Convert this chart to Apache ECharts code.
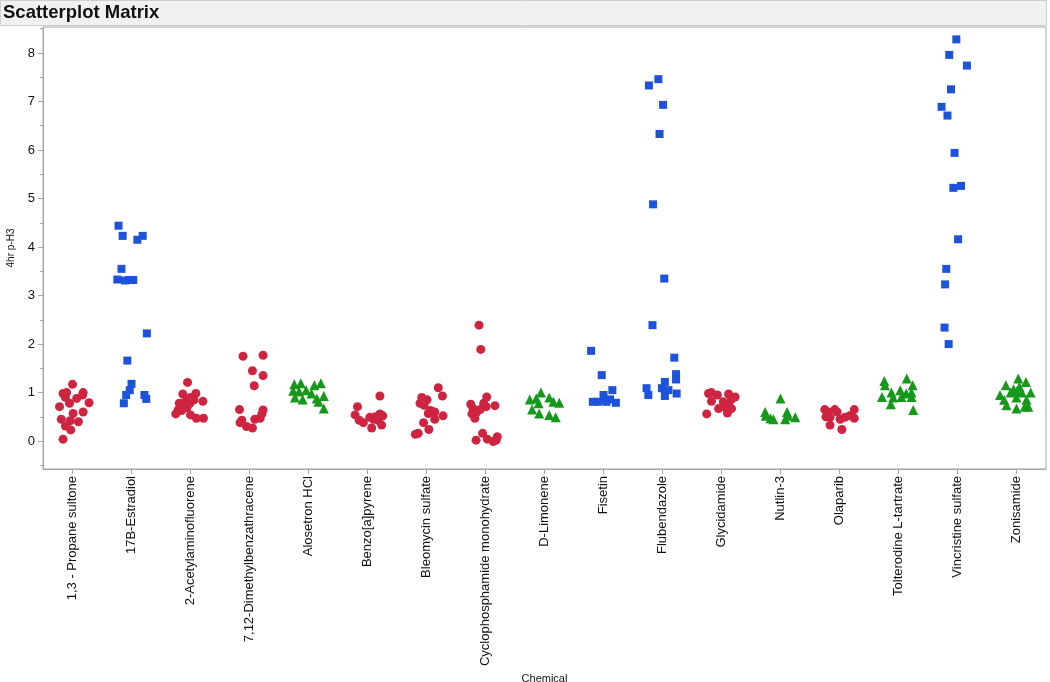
<!DOCTYPE html>
<html>
<head>
<meta charset="utf-8">
<style>
  html, body { margin: 0; padding: 0; background: #ffffff; }
  #chart { width: 1050px; height: 682px; }
</style>
<script src="https://cdn.jsdelivr.net/npm/echarts@6/dist/echarts.min.js"></script>
</head>
<body>
<div id="chart"></div>
<script>
// ---- Data ----
const categories = [
  '1,3 - Propane sultone', '17B-Estradiol', '2-Acetylaminofluorene', '7,12-Dimethylbenzathracene',
  'Alosetron HCl', 'Benzo[a]pyrene', 'Bleomycin sulfate', 'Cyclophosphamide monohydrate',
  'D-Limonene', 'Fisetin', 'Flubendazole', 'Glycidamide', 'Nutlin-3', 'Olaparib',
  'Tolterodine L-tartrate', 'Vincristine sulfate', 'Zonisamide'
];
// marker group of each category: 0 = red circle, 1 = blue square, 2 = green triangle
const categoryGroup = [0, 1, 0, 0, 2, 0, 0, 0, 2, 1, 1, 0, 2, 0, 2, 1, 2];

// each point: [jitter offset within category (category units), 4hr p-H3 value]
const propaneSultone = [[0.00,1.17],[-0.16,0.98],[-0.10,1.00],[-0.12,0.90],[0.18,1.00],[0.17,0.95],[0.07,0.88],[-0.05,0.78],[0.28,0.79],[-0.22,0.71],[0.01,0.57],[0.18,0.60],[-0.19,0.45],[-0.04,0.42],[0.10,0.40],[-0.12,0.31],[-0.03,0.23],[-0.16,0.04]];
const estradiol = [[-0.22,4.44],[-0.15,4.23],[0.10,4.15],[0.19,4.23],[-0.17,3.55],[-0.24,3.33],[-0.11,3.31],[-0.04,3.32],[0.03,3.32],[0.26,2.22],[-0.07,1.66],[0.00,1.18],[-0.03,1.05],[-0.09,0.95],[-0.13,0.78],[0.22,0.95],[0.25,0.87]];
const acetylaminofluorene = [[-0.05,1.21],[-0.13,0.97],[0.09,0.98],[0.00,0.90],[-0.06,0.85],[0.06,0.85],[0.21,0.82],[-0.19,0.78],[-0.11,0.79],[-0.01,0.78],[-0.15,0.71],[-0.06,0.69],[-0.21,0.64],[-0.15,0.63],[-0.25,0.56],[0.00,0.54],[0.10,0.47],[0.22,0.47]];
const dimethylbenzathracene = [[-0.11,1.75],[0.23,1.77],[0.05,1.45],[0.23,1.35],[0.08,1.14],[-0.17,0.65],[0.23,0.64],[0.21,0.56],[-0.13,0.43],[-0.16,0.38],[0.09,0.45],[0.18,0.47],[-0.05,0.30],[0.05,0.27]];
const alosetron = [[-0.24,1.17],[-0.13,1.19],[0.10,1.15],[0.21,1.19],[-0.26,1.04],[-0.16,1.02],[-0.04,1.05],[0.05,0.98],[-0.23,0.90],[-0.10,0.86],[0.14,0.88],[0.26,0.93],[0.17,0.81],[0.26,0.67]];
const benzopyrene = [[0.21,0.93],[-0.17,0.71],[-0.21,0.54],[-0.14,0.43],[-0.07,0.38],[0.04,0.49],[0.13,0.50],[0.21,0.56],[0.26,0.52],[0.18,0.43],[0.24,0.33],[0.07,0.27],[0.10,0.45]];
const bleomycin = [[0.20,1.10],[0.27,0.93],[-0.08,0.90],[0.01,0.85],[-0.11,0.78],[-0.04,0.74],[0.07,0.63],[0.03,0.57],[0.14,0.60],[0.28,0.52],[0.14,0.45],[-0.05,0.38],[0.04,0.24],[-0.19,0.14],[-0.14,0.16]];
const cyclophosphamide = [[-0.11,2.39],[-0.08,1.89],[0.02,0.91],[0.16,0.73],[-0.25,0.76],[-0.21,0.67],[-0.09,0.65],[-0.03,0.78],[0.01,0.71],[-0.23,0.56],[-0.18,0.47],[-0.15,0.60],[-0.05,0.16],[-0.16,0.02],[0.03,0.04],[0.13,-0.01],[0.20,0.09],[0.18,0.02]];
const limonene = [[-0.06,1.00],[-0.25,0.86],[-0.14,0.88],[-0.10,0.78],[0.08,0.90],[0.15,0.81],[0.25,0.79],[-0.21,0.65],[-0.09,0.57],[0.08,0.54],[0.19,0.49]];
const fisetin = [[-0.21,1.86],[-0.03,1.36],[0.15,1.05],[-0.18,0.81],[-0.09,0.81],[0.00,0.95],[0.03,0.85],[0.11,0.86],[0.21,0.79],[0.05,0.81]];
const flubendazole = [[-0.07,7.46],[-0.23,7.33],[0.01,6.93],[-0.05,6.33],[-0.16,4.88],[0.03,3.35],[-0.17,2.39],[0.20,1.72],[0.23,1.38],[0.23,1.27],[-0.27,1.09],[-0.24,0.95],[0.04,1.22],[-0.01,1.09],[0.10,1.05],[0.04,0.93],[0.24,0.98]];
const glycidamide = [[-0.22,0.98],[-0.17,1.00],[-0.07,0.95],[0.12,0.97],[0.23,0.91],[-0.17,0.82],[0.03,0.81],[0.17,0.86],[0.12,0.74],[-0.05,0.67],[0.04,0.71],[0.17,0.67],[0.10,0.58],[-0.25,0.56]];
const nutlin = [[0.00,0.88],[-0.26,0.60],[-0.25,0.52],[-0.12,0.45],[0.11,0.60],[0.13,0.52],[0.25,0.49],[0.08,0.45],[-0.17,0.47]];
const olaparib = [[-0.25,0.65],[-0.19,0.60],[-0.08,0.65],[-0.04,0.60],[0.25,0.65],[-0.23,0.50],[-0.16,0.49],[0.01,0.45],[0.09,0.49],[0.17,0.52],[0.25,0.47],[-0.16,0.33],[0.04,0.24]];
const tolterodine = [[-0.24,1.24],[0.14,1.29],[0.24,1.15],[-0.23,1.15],[-0.12,1.00],[0.03,1.05],[0.22,1.00],[-0.28,0.91],[-0.09,0.90],[0.05,0.91],[0.13,0.98],[-0.13,0.76],[0.25,0.64],[0.22,0.91]];
const vincristine = [[-0.02,8.28],[-0.14,7.96],[0.16,7.74],[-0.11,7.25],[-0.27,6.89],[-0.17,6.71],[-0.05,5.94],[0.06,5.26],[-0.07,5.22],[0.01,4.16],[-0.19,3.55],[-0.21,3.23],[-0.22,2.34],[-0.15,2.00]];
const zonisamide = [[0.03,1.29],[0.16,1.22],[-0.18,1.15],[-0.05,1.07],[0.05,1.12],[0.00,1.02],[0.09,1.00],[0.24,1.00],[-0.28,0.95],[-0.10,1.00],[-0.21,0.85],[0.00,0.90],[0.17,0.85],[-0.17,0.74],[0.00,0.67],[0.14,0.71],[0.20,0.71]];

const pointsByCategory = [
  propaneSultone, estradiol, acetylaminofluorene, dimethylbenzathracene, alosetron,
  benzopyrene, bleomycin, cyclophosphamide, limonene, fisetin, flubendazole,
  glycidamide, nutlin, olaparib, tolterodine, vincristine, zonisamide
];
const yLabelTicks = [0, 1, 2, 3, 4, 5, 6, 7, 8];
const yMinorTicks = [-0.5, 0.5, 1.5, 2.5, 3.5, 4.5, 5.5, 6.5, 7.5, 8.5];

// ---- Build series ----
const FONT = '"Liberation Sans", Arial, Helvetica, sans-serif';
const groupStyle = [
  { symbol: 'circle', size: 9, color: '#cf2440' },
  { symbol: 'rect', size: 8, color: '#1d52da' },
  { symbol: 'triangle', size: 10, color: '#16981a' }
];
const series = groupStyle.map(function (g, gi) {
  const data = [];
  pointsByCategory.forEach(function (pts, ci) {
    if (categoryGroup[ci] !== gi) return;
    pts.forEach(function (p) { data.push([ci + p[0], p[1]]); });
  });
  return {
    type: 'scatter',
    xAxisIndex: 1,
    yAxisIndex: 0,
    symbol: g.symbol,
    symbolSize: g.size,
    itemStyle: { color: g.color, opacity: 1 },
    data: data,
    silent: true,
    animation: false
  };
});

const chart = echarts.init(document.getElementById('chart'), null, { renderer: 'canvas' });
chart.setOption({
  backgroundColor: '#ffffff',
  animation: false,
  graphic: [
    {
      type: 'rect',
      shape: { x: 0.5, y: 0.5, width: 1046, height: 25 },
      style: { fill: '#f1f1f1', stroke: '#cfcfcf', lineWidth: 1 },
      z: 0
    },
    {
      type: 'text',
      left: 3,
      top: 3,
      style: { text: 'Scatterplot Matrix', font: 'bold 18.5px ' + FONT, fill: '#111111' },
      z: 1
    }
  ],
  grid: {
    left: 43, right: 4, top: 27, bottom: 213,
    show: true, borderColor: '#a6a6a6', borderWidth: 1, backgroundColor: '#ffffff',
    containLabel: false,
    outerBoundsMode: 'none'
  },
  xAxis: [
    {
      type: 'category',
      data: categories,
      boundaryGap: true,
      position: 'bottom',
      name: 'Chemical',
      nameLocation: 'middle',
      nameGap: 202,
      nameTextStyle: { fontFamily: FONT, fontSize: 11, color: '#111' },
      axisLine: { show: true, onZero: false, lineStyle: { color: '#a6a6a6', width: 1 } },
      axisTick: { show: true, alignWithLabel: true, length: 5, lineStyle: { color: '#a6a6a6' } },
      axisLabel: { rotate: 90, interval: 0, margin: 7, fontFamily: FONT, fontSize: 13, color: '#111' },
      splitLine: { show: false }
    },
    {
      type: 'value',
      min: -0.5,
      max: 16.5,
      show: false
    }
  ],
  yAxis: [
    {
      type: 'value',
      min: -0.575,
      max: 8.535,
      name: '4hr p-H3',
      nameLocation: 'middle',
      nameGap: 27,
      nameRotate: 90,
      nameTextStyle: { fontFamily: FONT, fontSize: 10, color: '#111' },
      axisLine: { show: true, onZero: false, lineStyle: { color: '#a6a6a6', width: 1 } },
      axisTick: { show: true, length: 5, customValues: yLabelTicks, lineStyle: { color: '#a6a6a6' } },
      axisLabel: { customValues: yLabelTicks, margin: 8, fontFamily: FONT, fontSize: 13, color: '#111' },
      splitLine: { show: false }
    },
    {
      type: 'value',
      min: -0.575,
      max: 8.535,
      position: 'left',
      axisLine: { show: false, onZero: false },
      axisTick: { show: true, length: 3, customValues: yMinorTicks, lineStyle: { color: '#a6a6a6' } },
      axisLabel: { show: false },
      splitLine: { show: false }
    }
  ],
  series: series
});
</script>
</body>
</html>
